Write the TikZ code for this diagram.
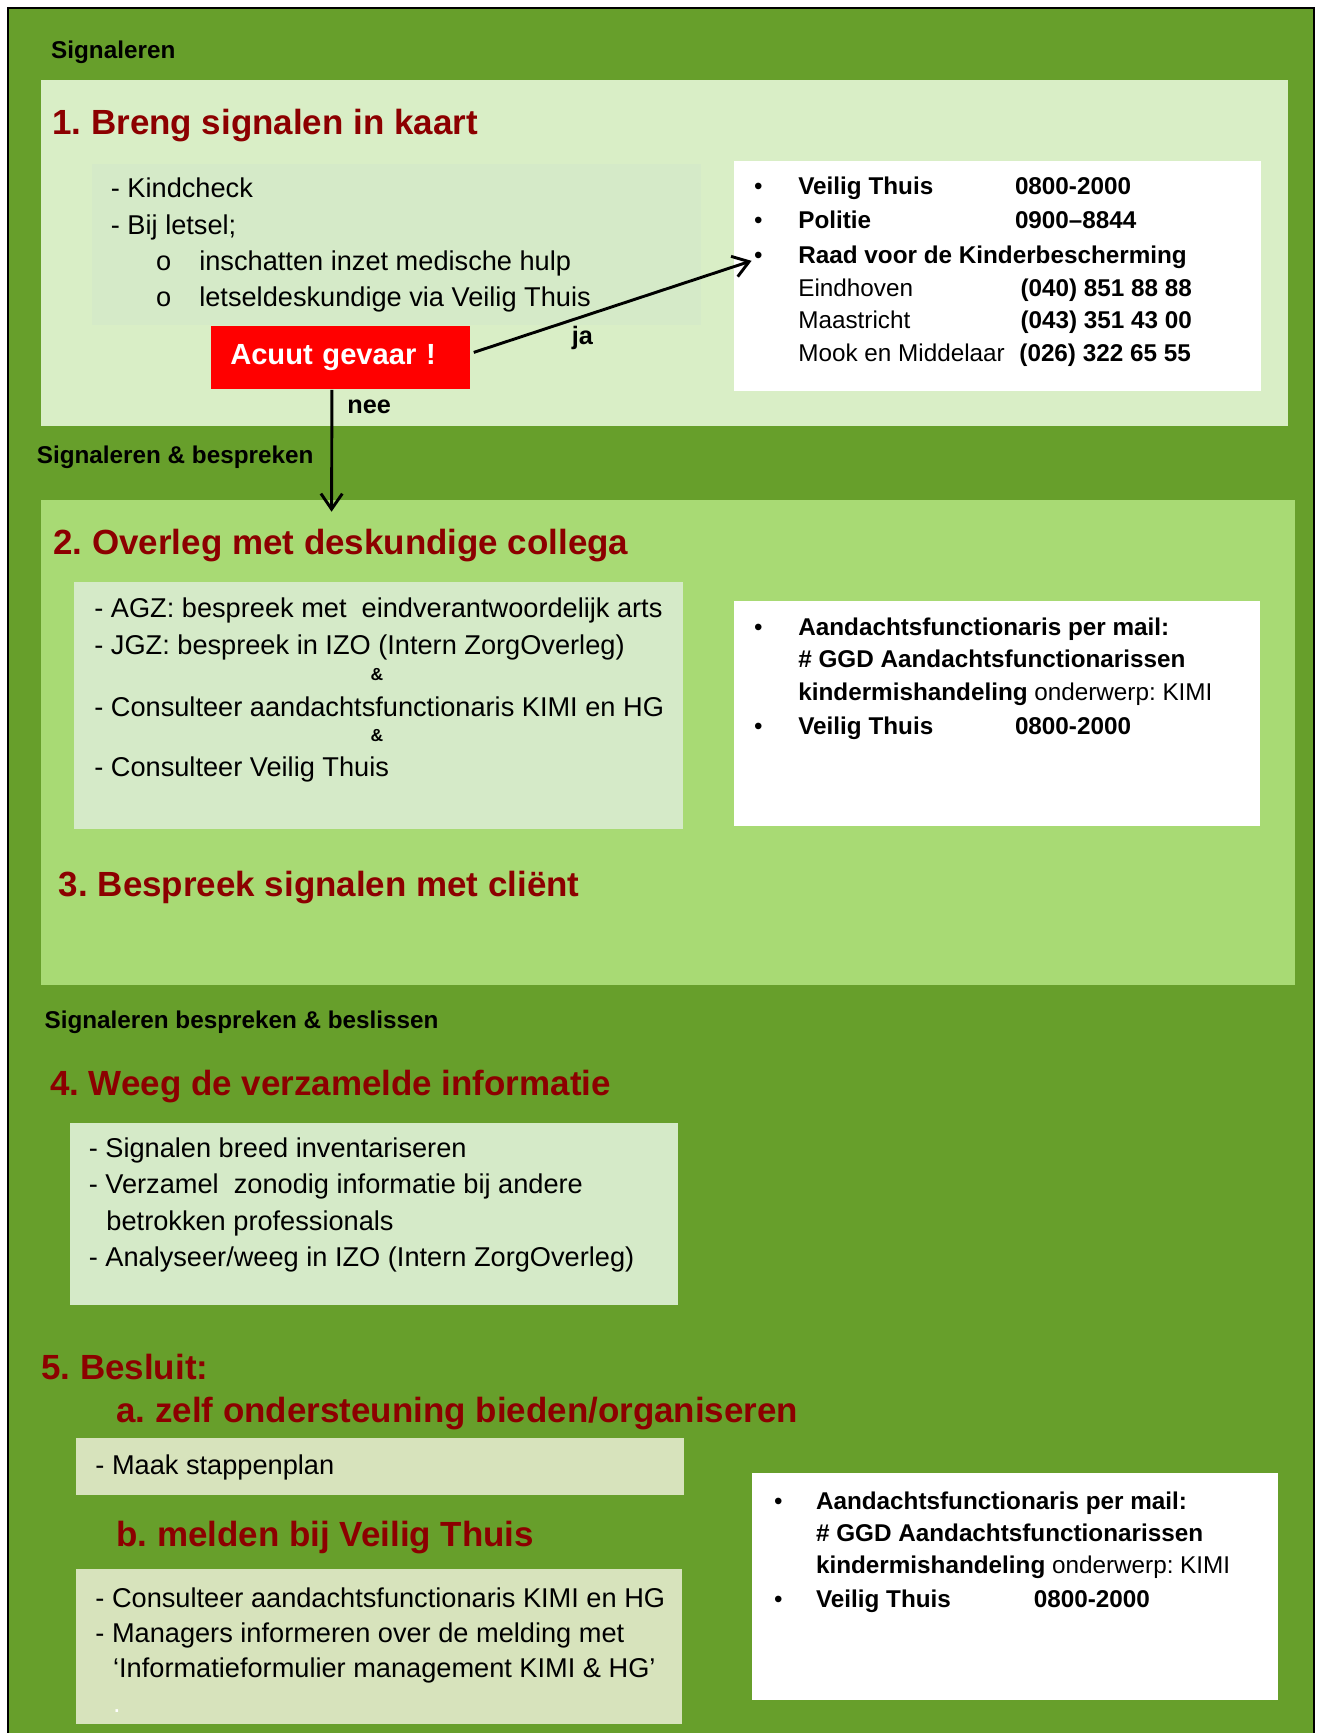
\documentclass[tikz,border=0pt]{standalone}
\usepackage{fontspec}
\setmainfont{Liberation Sans}
\frenchspacing
\usetikzlibrary{arrows.meta}
\definecolor{dkgreen}{RGB}{103,159,43}
\definecolor{pale}{RGB}{217,238,198}
\definecolor{lime}{RGB}{168,218,116}
\definecolor{mint}{RGB}{213,234,200}
\definecolor{sage}{RGB}{215,227,188}
\definecolor{maroon}{RGB}{140,0,0}
\tikzset{
  stage/.style = {anchor=base west, inner sep=0pt, text=maroon, font=\fontsize{18}{21}\selectfont\bfseries},
  phase/.style = {anchor=base west, inner sep=0pt, font=\fontsize{12.5}{15}\selectfont\bfseries},
  item/.style = {anchor=base west, inner sep=0pt, font=\fontsize{14}{17}\selectfont},
  info/.style = {anchor=base west, inner sep=0pt, font=\fontsize{12.5}{15}\selectfont},
  infob/.style = {info, font=\fontsize{12.5}{15}\selectfont\bfseries},
  amp/.style = {anchor=base, inner sep=0pt, font=\fontsize{9}{11}\selectfont\bfseries},
  answer/.style = {anchor=base west, inner sep=0pt, font=\fontsize{13}{15}\selectfont\bfseries},
  alarm/.style = {anchor=north west, fill=red, text=white, font=\fontsize{15}{18}\selectfont\bfseries,
    text width=4.0cm, inner xsep=0.34cm, minimum height=1.14cm, align=left},
  flow/.style = {line width=1.5pt, -{Straight Barb[length=8pt,width=11pt,line width=1.5pt]}}
}

\begin{document}
\begin{tikzpicture}[x=0.02cm,y=-0.02cm]
  \useasboundingbox (0,0) rectangle (1195,1568);
  \fill[white] (0,0) rectangle (1195,1568);
  \draw[fill=dkgreen, line width=1pt] (7,7) rectangle (1189,1590);
  \fill[pale] (37,72) rectangle (1165,385);
  \fill[lime] (37,452) rectangle (1172,891);
  \fill[mint] (83,148) rectangle (634,294);
  \fill[mint] (67,527) rectangle (618,750);
  \fill[mint] (63,1016) rectangle (613,1181);
  \fill[sage] (69,1301) rectangle (619,1353);
  \fill[sage] (69,1420) rectangle (617,1560);
  \fill[white] (664,146) rectangle (1141,354);
  \fill[white] (664,544) rectangle (1140,747);
  \fill[white] (680,1333) rectangle (1156,1538);

  \node[phase] (lab1) at (46,53) {Signaleren};
  \node[stage] (st1) at (47,122) {1. Breng signalen in kaart};
  \node[item] (k1) at (100,179) {- Kindcheck};
  \node[item] (k2) at (100,212) {- Bij letsel;};
  \node[item] (k3o) at (141,245) {o};
  \node[item] (k3) at (180,245) {inschatten inzet medische hulp};
  \node[item] (k4o) at (141,277) {o};
  \node[item] (k4) at (180,277) {letseldeskundige via Veilig Thuis};
  \node[alarm] (acuut) at (191,295) {Acuut gevaar !};

  \node[info] (w1a) at (682,176) {•};
  \node[infob] (w1b) at (722,176) {Veilig Thuis};
  \node[infob] (w1c) at (918,176) {0800-2000};
  \node[info] (w2a) at (682,207) {•};
  \node[infob] (w2b) at (722,207) {Politie};
  \node[infob] (w2c) at (918,207) {0900–8844};
  \node[info] (w3a) at (682,238) {•};
  \node[infob] (w3b) at (722,238) {Raad voor de Kinderbescherming};
  \node[info] (w4b) at (722,268) {Eindhoven};
  \node[infob] (w4c) at (923,268) {(040) 851 88 88};
  \node[info] (w5b) at (722,297) {Maastricht};
  \node[infob] (w5c) at (923,297) {(043) 351 43 00};
  \node[info] (w6b) at (722,327) {Mook en Middelaar};
  \node[infob] (w6c) at (922,327) {(026) 322 65 55};

  \coordinate (raad) at (680,236);
  \coordinate (overleg) at (300,463);
  \draw[flow] ([xshift=0.06cm,yshift=0.1cm]acuut.east) -- (raad);
  \draw[flow] ([xshift=-0.16cm]acuut.south) -- (overleg);
  \node[answer] (ja) at (517,312) {ja};
  \node[answer] (nee) at (314,374) {nee};

  \node[phase] (lab2) at (33,419) {Signaleren \& bespreken};
  \node[stage] (st2) at (48,502) {2. Overleg met deskundige collega};
  \node[item] (o1) at (85,559) {- AGZ: bespreek met \ eindverantwoordelijk arts};
  \node[item] (o2) at (85,592) {- JGZ: bespreek in IZO (Intern ZorgOverleg)};
  \node[amp] (o2amp) at (341,616) {\&};
  \node[item] (o3) at (85,648) {- Consulteer aandachtsfunctionaris KIMI en HG};
  \node[amp] (o3amp) at (341,671) {\&};
  \node[item] (o4) at (85,703) {- Consulteer Veilig Thuis};

  \node[info] (m1a) at (682,575) {•};
  \node[infob] (m1b) at (722,575) {Aandachtsfunctionaris per mail:};
  \node[infob] (m2b) at (722,604) {\# GGD Aandachtsfunctionarissen};
  \node[info] (m3b) at (722,634) {\textbf{kindermishandeling} onderwerp: KIMI};
  \node[info] (m4a) at (682,665) {•};
  \node[infob] (m4b) at (722,665) {Veilig Thuis};
  \node[infob] (m4c) at (918,665) {0800-2000};

  \node[stage] (st3) at (53,811) {3. Bespreek signalen met cliënt};

  \node[phase] (lab3) at (40,931) {Signaleren bespreken \& beslissen};
  \node[stage] (st4) at (45,991) {4. Weeg de verzamelde informatie};
  \node[item] (v1) at (80,1047) {- Signalen breed inventariseren};
  \node[item] (v2) at (80,1080) {- Verzamel \ zonodig informatie bij andere};
  \node[item] (v3) at (96,1113) {betrokken professionals};
  \node[item] (v4) at (80,1146) {- Analyseer/weeg in IZO (Intern ZorgOverleg)};

  \node[stage] (st5) at (37,1248) {5. Besluit:};
  \node[stage] (st5a) at (105,1287) {a. zelf ondersteuning bieden/organiseren};
  \node[item] (z1) at (86,1334) {- Maak stappenplan};
  \node[stage] (st5b) at (105,1399) {b. melden bij Veilig Thuis};
  \node[item] (b1) at (86,1454) {- Consulteer aandachtsfunctionaris KIMI en HG};
  \node[item] (b2) at (86,1486) {- Managers informeren over de melding met};
  \node[item] (b3) at (102,1518) {‘Informatieformulier management KIMI \& HG’};
  \node[item, text=white] (b4) at (102,1549) {.};

  \node[info] (n1a) at (700,1366) {•};
  \node[infob] (n1b) at (738,1366) {Aandachtsfunctionaris per mail:};
  \node[infob] (n2b) at (738,1395) {\# GGD Aandachtsfunctionarissen};
  \node[info] (n3b) at (738,1424) {\textbf{kindermishandeling} onderwerp: KIMI};
  \node[info] (n4a) at (700,1454) {•};
  \node[infob] (n4b) at (738,1454) {Veilig Thuis};
  \node[infob] (n4c) at (935,1454) {0800-2000};
\end{tikzpicture}
\end{document}
